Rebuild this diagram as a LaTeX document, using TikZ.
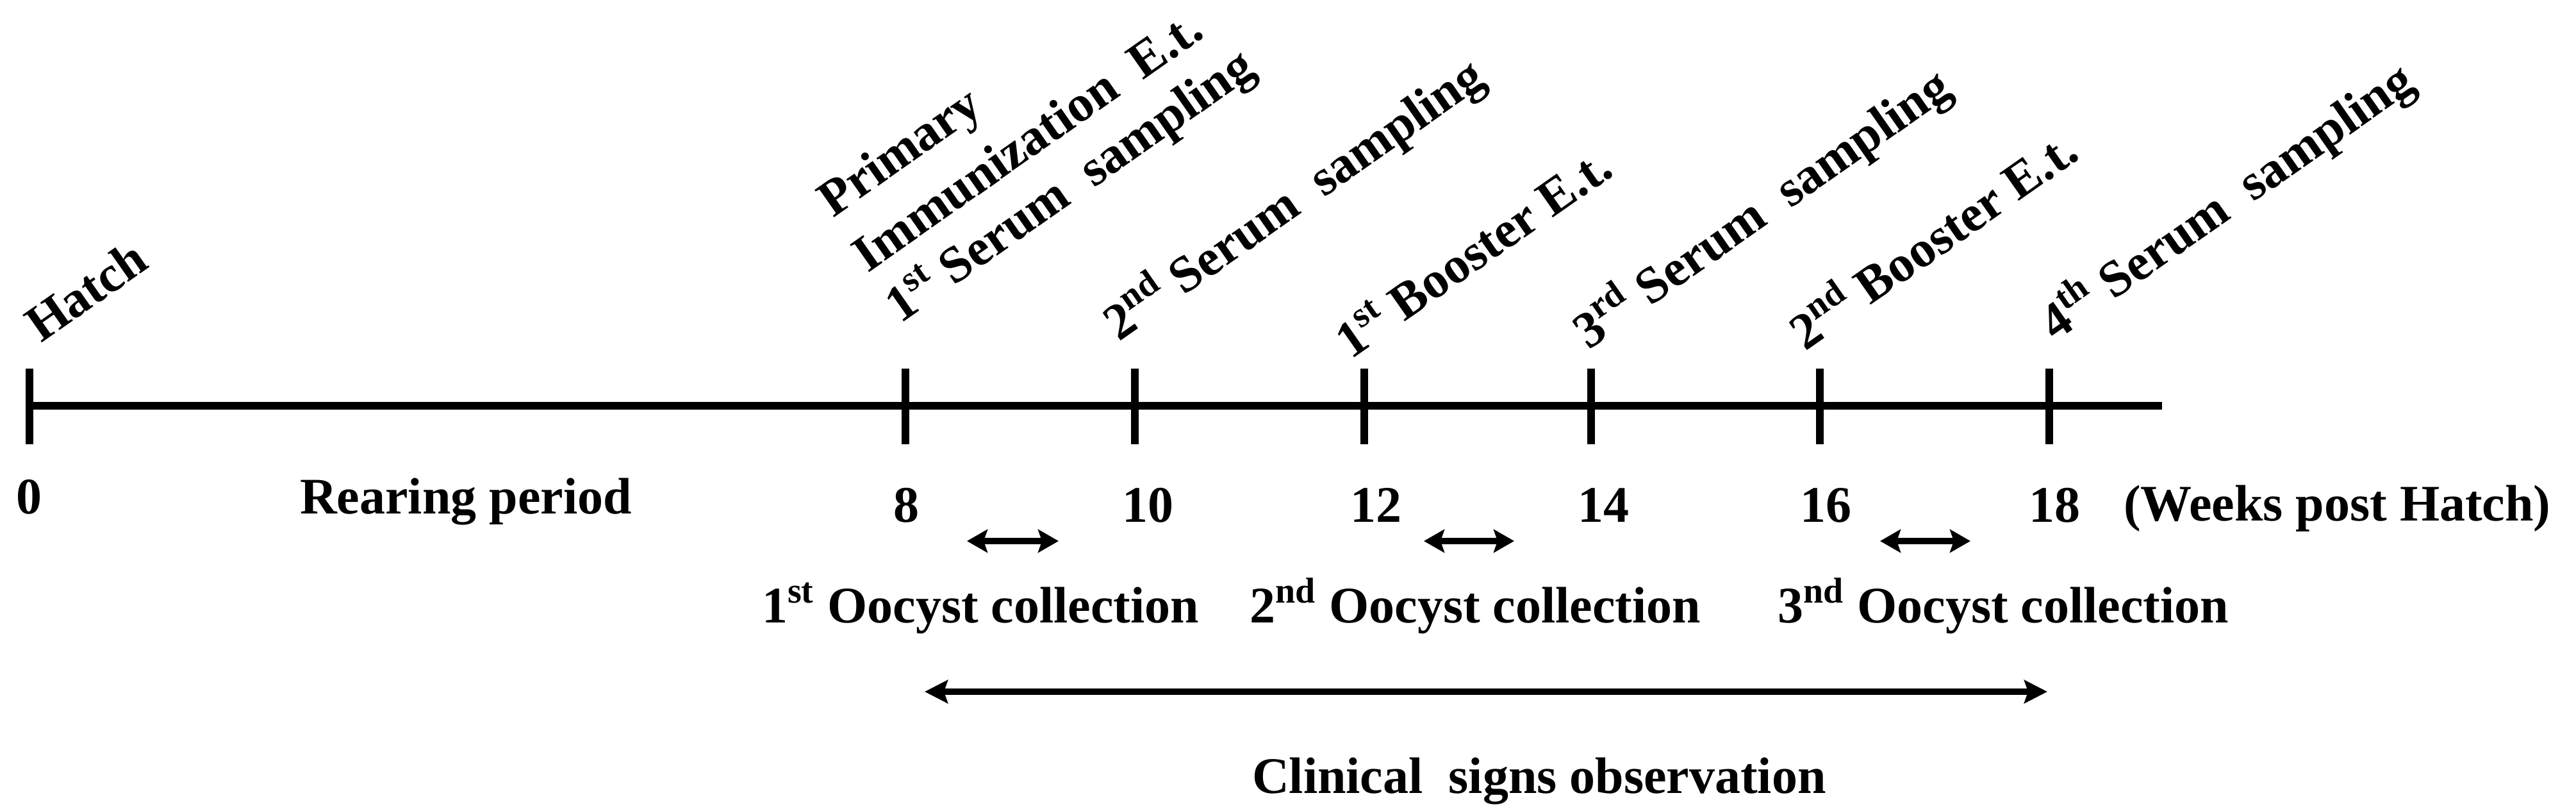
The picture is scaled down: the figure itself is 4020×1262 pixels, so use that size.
\documentclass[tikz,border=0pt]{standalone}
\usepackage{fontspec}
\setmainfont{Liberation Serif}
\usetikzlibrary{arrows.meta}
\begin{document}
\begin{tikzpicture}[x=0.25pt,y=-0.25pt,
  lbl/.style={inner sep=0pt,outer sep=0pt,font=\fontsize{20pt}{24pt}\selectfont\bfseries},
  numlbl/.style={lbl,anchor=base},
  leftlbl/.style={lbl,anchor=base west},
  toplbl/.style={lbl,anchor=base west,rotate=35},
  axisline/.style={line width=2.8pt},
  tickmark/.style={line width=2.8pt},
  shortspan/.style={line width=2.5pt,{Stealth[length=8pt,width=9pt,inset=1.5pt]}-{Stealth[length=8pt,width=9pt,inset=1.5pt]}},
  longspan/.style={line width=2.6pt,{Stealth[length=9pt,width=9pt,inset=1.5pt]}-{Stealth[length=9pt,width=9pt,inset=1.5pt]}}]
\useasboundingbox (0,0) rectangle (4020,1262);
\fill[white] (0,0) rectangle (4020,1262);

% axis
\coordinate (a0) at (46,633);
\coordinate (aend) at (3374,633);
\draw[axisline] (a0) -- (aend);

% ticks
\foreach \n/\x in {w0/46,w8/1413,w10/1771,w12/2129,w14/2483,w16/2840,w18/3198}{
  \coordinate (\n top) at (\x,575);
  \coordinate (\n bot) at (\x,693);
  \draw[tickmark] (\n top) -- (\n bot);
}

% numbers
\node[numlbl] (n0) at (45,801) {0};
\node[leftlbl] (rear) at (468,801) {Rearing period};
\node[numlbl] (n8) at (1414,814) {8};
\node[numlbl] (n10) at (1791,814) {10};
\node[numlbl] (n12) at (2147,814) {12};
\node[numlbl] (n14) at (2502,814) {14};
\node[numlbl] (n16) at (2849,814) {16};
\node[numlbl] (n18) at (3206,814) {18};
\node[leftlbl] (weeks) at (3314,812) {(Weeks post Hatch)};

% top labels
\node[toplbl] (hatch) at (64,536) {Hatch};
\node[toplbl] (prim) at (1300,340) {Primary};
\node[toplbl] (immu) at (1354,426) {Immunization\ \ E.t.};
\node[toplbl] (ser1) at (1405,505) {1\textsuperscript{st} Serum\ \ sampling};
\node[toplbl] (ser2) at (1746,533) {2\textsuperscript{nd} Serum\ \ sampling};
\node[toplbl] (boo1) at (2108,561) {1\textsuperscript{st} Booster E.t.};
\node[toplbl] (ser3) at (2479,546) {3\textsuperscript{rd} Serum\ \ sampling};
\node[toplbl] (boo2) at (2817,548) {2\textsuperscript{nd} Booster E.t.};
\node[toplbl] (ser4) at (3207,533) {4\textsuperscript{th} Serum\ \ sampling};

% oocyst collection spans
\coordinate (o1a) at (1509,844); \coordinate (o1b) at (1652,844);
\coordinate (o2a) at (2222,844); \coordinate (o2b) at (2363,844);
\coordinate (o3a) at (2934,844); \coordinate (o3b) at (3075,844);
\draw[shortspan] (o1a) -- (o1b);
\draw[shortspan] (o2a) -- (o2b);
\draw[shortspan] (o3a) -- (o3b);

\node[leftlbl] (oc1) at (1189,971) {1\textsuperscript{st} Oocyst collection};
\node[leftlbl] (oc2) at (1950,971) {2\textsuperscript{nd} Oocyst collection};
\node[leftlbl] (oc3) at (2774,971) {3\textsuperscript{nd} Oocyst collection};

% clinical signs
\coordinate (cla) at (1443,1079);
\coordinate (clb) at (3195,1079);
\draw[longspan] (cla) -- (clb);
\node[leftlbl] (clin) at (1954,1237) {Clinical\ \ signs observation};
\end{tikzpicture}
\end{document}
